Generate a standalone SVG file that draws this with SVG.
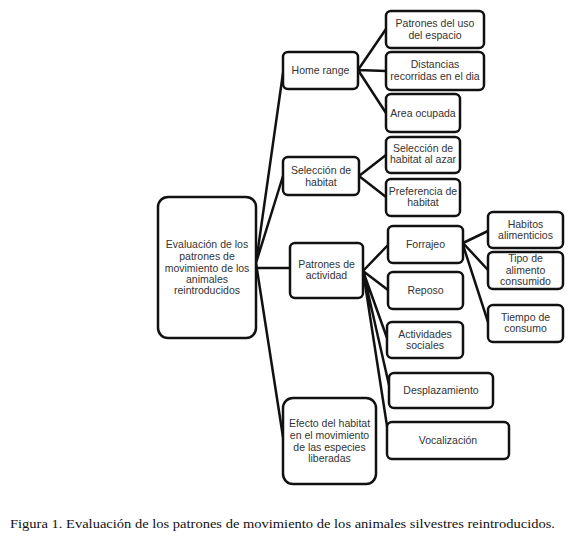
<svg xmlns="http://www.w3.org/2000/svg" width="580" height="541" viewBox="0 0 580 541">
<style>
.b{fill:#fff;stroke:#111;stroke-width:2.5}
.t{font-family:"Liberation Sans",Arial,sans-serif;font-size:10.5px;fill:#333;text-anchor:middle}
.c{stroke:#111;stroke-width:2.5;fill:none;stroke-linecap:round}
.cap{font-family:"Liberation Serif","DejaVu Serif",serif;font-size:12px;fill:#111}
</style>
<rect width="580" height="541" fill="#fff"/>
<g id="connectors">
<path class="c" d="M256,263 L283,73 M256,263 L283,176 M256,268 L290,268 M256,263 L283,437"/>
<path class="c" d="M358,70 L386,29 M358,70 L386,71 M358,70 L386,113"/>
<path class="c" d="M359,176 L386,155 M359,176 L386,197"/>
<path class="c" d="M363,271 L388,245 M363,271 L388,290 M363,271 L387,338 M363,271 L389,385 M363,271 L387,426"/>
<path class="c" d="M463,243 L488,231 M463,243 L488,270 M463,245 L488,322"/>
</g>
<g id="main"><rect class="b" x="158" y="197" width="98" height="141" rx="10"/>
<text class="t"><tspan x="207" y="248">Evaluación de los</tspan><tspan x="207" y="260">patrones de</tspan><tspan x="207" y="272">movimiento de los</tspan><tspan x="207" y="283">animales</tspan><tspan x="207" y="294">reintroducidos</tspan></text></g>
<g id="home"><rect class="b" x="283" y="52" width="75" height="37" rx="5"/><text class="t" x="320.5" y="74">Home range</text></g>
<g id="uso"><rect class="b" x="386" y="11" width="98" height="37" rx="5"/><text class="t"><tspan x="435" y="27">Patrones del uso</tspan><tspan x="435" y="39">del espacio</tspan></text></g>
<g id="dist"><rect class="b" x="386" y="52" width="98" height="38" rx="5"/><text class="t"><tspan x="435" y="68">Distancias</tspan><tspan x="435" y="80">recorridas en el dia</tspan></text></g>
<g id="area"><rect class="b" x="386" y="94" width="74" height="38" rx="5"/><text class="t" x="423" y="117">Area ocupada</text></g>
<g id="sel"><rect class="b" x="283" y="157" width="76" height="38" rx="5"/><text class="t"><tspan x="321" y="174">Selección de</tspan><tspan x="321" y="186">habitat</tspan></text></g>
<g id="azar"><rect class="b" x="386" y="137" width="74" height="36" rx="5"/><text class="t"><tspan x="423" y="152">Selección de</tspan><tspan x="423" y="163">habitat al azar</tspan></text></g>
<g id="pref"><rect class="b" x="386" y="179" width="74" height="37" rx="5"/><text class="t"><tspan x="423" y="195">Preferencia de</tspan><tspan x="423" y="206">habitat</tspan></text></g>
<g id="activ"><rect class="b" x="290" y="243" width="73" height="55" rx="5"/><text class="t"><tspan x="326.5" y="268">Patrones de</tspan><tspan x="326.5" y="279">actividad</tspan></text></g>
<g id="forr"><rect class="b" x="388" y="226" width="75" height="37" rx="5"/><text class="t" x="425.5" y="248">Forrajeo</text></g>
<g id="repo"><rect class="b" x="388" y="272" width="75" height="37" rx="5"/><text class="t" x="425.5" y="294">Reposo</text></g>
<g id="soc"><rect class="b" x="387" y="322" width="76" height="36" rx="5"/><text class="t"><tspan x="425" y="338">Actividades</tspan><tspan x="425" y="349">sociales</tspan></text></g>
<g id="hab"><rect class="b" x="488" y="212" width="75" height="36" rx="5"/><text class="t"><tspan x="525.5" y="228">Habitos</tspan><tspan x="525.5" y="239">alimenticios</tspan></text></g>
<g id="tipo"><rect class="b" x="488" y="252" width="75" height="37" rx="5"/><text class="t"><tspan x="525.5" y="262">Tipo de</tspan><tspan x="525.5" y="274">alimento</tspan><tspan x="525.5" y="285">consumido</tspan></text></g>
<g id="tiempo"><rect class="b" x="488" y="305" width="75" height="37" rx="5"/><text class="t"><tspan x="525.5" y="321">Tiempo de</tspan><tspan x="525.5" y="332">consumo</tspan></text></g>
<g id="despl"><rect class="b" x="389" y="373" width="104" height="35" rx="5"/><text class="t" x="441" y="394">Desplazamiento</text></g>
<g id="voc"><rect class="b" x="387" y="422" width="122" height="37" rx="5"/><text class="t" x="448" y="444">Vocalización</text></g>
<g id="efecto"><rect class="b" x="283" y="398" width="93" height="86" rx="10"/><text class="t"><tspan x="329.5" y="427">Efecto del habitat</tspan><tspan x="329.5" y="439">en el movimiento</tspan><tspan x="329.5" y="451">de las especies</tspan><tspan x="329.5" y="462">liberadas</tspan></text></g>
<text class="cap" x="10" y="528" textLength="545" lengthAdjust="spacingAndGlyphs">Figura 1. Evaluación de los patrones de movimiento de los animales silvestres reintroducidos.</text>
</svg>
